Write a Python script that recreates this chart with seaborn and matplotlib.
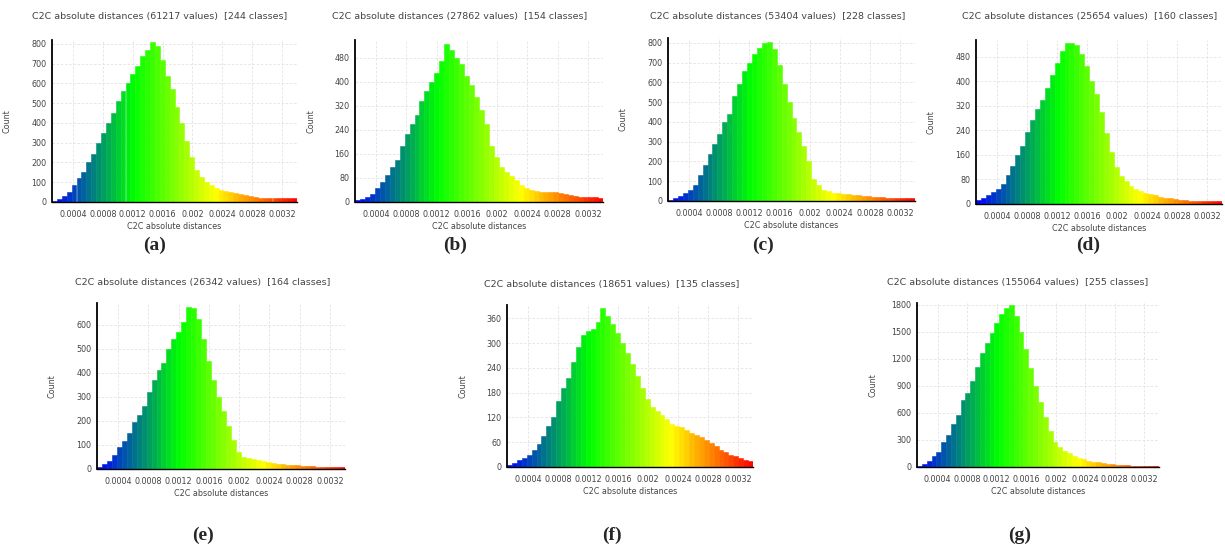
import matplotlib
matplotlib.use("Agg")
import matplotlib.pyplot as plt
import numpy as np
import pandas as pd
import seaborn as sns
from matplotlib.colors import LinearSegmentedColormap
from matplotlib.ticker import AutoMinorLocator, MultipleLocator

# scalar field range (C2C absolute distances)
x_min, x_max = 0.00012, 0.0034
tick_vals = [0.0004, 0.0008, 0.0012, 0.0016, 0.0020, 0.0024, 0.0028, 0.0032]
tick_labels = ["0.0004", "0.0008", "0.0012", "0.0016", "0.002", "0.0024", "0.0028", "0.0032"]

titles = [
    "C2C absolute distances (61217 values)  [244 classes]",
    "C2C absolute distances (27862 values)  [154 classes]",
    "C2C absolute distances (53404 values)  [228 classes]",
    "C2C absolute distances (25654 values)  [160 classes]",
    "C2C absolute distances (26342 values)  [164 classes]",
    "C2C absolute distances (18651 values)  [135 classes]",
    "C2C absolute distances (155064 values)  [255 classes]",
]
letters = ["a", "b", "c", "d", "e", "f", "g"]

# counts per class (resampled to 50 classes)
counts_a = [5, 15, 30, 50, 85, 120, 150, 200, 245, 300, 350, 400, 450, 510, 560, 600, 650,
            690, 740, 770, 810, 790, 720, 640, 570, 480, 400, 310, 230, 160, 125, 100, 85, 72,
            62, 55, 50, 45, 40, 36, 30, 26, 22, 20, 18, 18, 20, 20, 20, 20]
counts_b = [8, 10, 18, 28, 45, 65, 90, 115, 140, 185, 225, 260, 290, 335, 370, 400, 430,
            470, 525, 505, 480, 460, 420, 390, 350, 305, 260, 185, 150, 115, 100, 85, 72, 58,
            48, 40, 36, 34, 33, 33, 32, 30, 25, 22, 20, 18, 16, 16, 15, 14]
counts_c = [5, 15, 25, 40, 58, 80, 130, 180, 240, 290, 340, 400, 440, 530, 590, 660, 700,
            745, 775, 800, 805, 770, 690, 590, 500, 420, 350, 280, 200, 110, 80, 58, 50, 43,
            38, 36, 34, 32, 30, 27, 24, 22, 20, 18, 16, 14, 13, 13, 13, 13]
counts_d = [12, 20, 28, 38, 50, 65, 95, 125, 160, 190, 235, 275, 310, 340, 380, 420, 460,
            500, 525, 525, 520, 490, 450, 400, 360, 300, 230, 170, 120, 90, 75, 60, 50, 42,
            36, 32, 28, 24, 20, 18, 15, 13, 12, 10, 9, 9, 9, 10, 10, 10]
counts_e = [8, 20, 35, 60, 90, 115, 150, 195, 225, 260, 320, 370, 410, 440, 500, 540, 570,
            610, 675, 670, 625, 540, 450, 370, 300, 240, 180, 120, 70, 50, 44, 40, 36, 32,
            29, 26, 22, 20, 18, 16, 15, 14, 12, 11, 10, 10, 10, 10, 10, 10]
counts_f = [5, 10, 16, 22, 30, 42, 55, 75, 100, 120, 160, 190, 215, 255, 290, 320, 330,
            335, 350, 385, 365, 345, 325, 300, 275, 250, 220, 190, 165, 145, 135, 125, 115,
            105, 100, 96, 90, 82, 78, 72, 66, 58, 50, 42, 36, 30, 26, 22, 18, 14]
counts_g = [8, 28, 70, 120, 170, 280, 360, 480, 580, 740, 820, 950, 1110, 1260, 1380, 1490,
            1600, 1700, 1760, 1800, 1680, 1500, 1310, 1100, 900, 720, 550, 400, 280, 220, 180,
            150, 125, 105, 85, 70, 58, 50, 45, 38, 32, 26, 22, 19, 16, 14, 12, 10, 8, 7]

all_counts = [counts_a, counts_b, counts_c, counts_d, counts_e, counts_f, counts_g]
y_tops = [820, 540, 825, 535, 690, 392, 1820]
y_steps = [100, 80, 100, 80, 100, 60, 300]

# layout in pixels: axes (left, right, top, bottom), title centre, letter centre
W, H = 1225, 550
axes_px = [(52, 297, 40, 202), (355, 603, 40, 202), (668, 915, 38, 201), (976, 1222, 40, 204),
           (97, 345, 303, 469), (507, 753, 305, 467), (917, 1159, 303, 467)]
title_px = [(160, 17), (460, 17), (778, 17), (1090, 17), (203, 283), (612, 284), (1018, 283)]
letter_px = [(155, 245), (455, 245), (763, 245), (1088, 245), (203, 535), (612, 535), (1020, 535)]

sns.set_style("white")
plt.rcParams["font.family"] = ["DejaVu Sans"]

cmap = LinearSegmentedColormap.from_list("bgyr", ["#0000ff", "#00ff00", "#ffff00", "#ff0000"])

fig = plt.figure(figsize=(W / 100, H / 100), dpi=100)

for i, counts in enumerate(all_counts):
    l, r, t, b = axes_px[i]
    ax = fig.add_axes([l / W, 1 - b / H, (r - l) / W, (b - t) / H])
    n = len(counts)
    step = (x_max - x_min) / n
    centers = x_min + step * (np.arange(n) + 0.5)
    df = pd.DataFrame({"dist": centers, "n": counts})
    sns.histplot(data=df, x="dist", weights="n", bins=n, binrange=(x_min, x_max),
                 ax=ax, linewidth=0, alpha=1)
    # colour each class by its distance value (Blue > Green > Yellow > Red)
    for patch in ax.patches:
        c = patch.get_x() + patch.get_width() / 2
        col = cmap((c - x_min) / (x_max - x_min))
        patch.set_facecolor(col)
        patch.set_edgecolor(col)
        patch.set_linewidth(0.4)

    ax.set_xlim(x_min, x_max)
    ax.set_ylim(0, y_tops[i])
    ax.set_xticks(tick_vals)
    ax.set_xticklabels(tick_labels)
    ax.yaxis.set_major_locator(MultipleLocator(y_steps[i]))
    ax.xaxis.set_minor_locator(AutoMinorLocator(2))
    ax.yaxis.set_minor_locator(AutoMinorLocator(5))
    ax.tick_params(axis="both", which="major", labelsize=5.8, labelcolor="#444444",
                   direction="inout", length=4, width=0.8, color="black", pad=2)
    ax.tick_params(axis="both", which="minor", direction="inout", length=2.5, width=0.6, color="black")
    ax.tick_params(axis="x", which="major", pad=4)
    ax.grid(True, which="major", color="#e2e2e2", linewidth=0.6, linestyle=(0, (3, 2)))
    ax.set_axisbelow(True)
    for s in ["top", "right"]:
        ax.spines[s].set_visible(False)
    ax.spines["left"].set_linewidth(1.3)
    ax.spines["bottom"].set_linewidth(1.0)
    ax.spines["left"].set_color("black")
    ax.spines["bottom"].set_color("black")

    ax.set_xlabel("C2C absolute distances", fontsize=5.8, color="#444444", labelpad=2)
    ax.set_ylabel("Count", fontsize=5.8, color="#444444")
    ax.yaxis.set_label_coords(-40 / (r - l), 0.5)

    tx, ty = title_px[i]
    fig.text(tx / W, 1 - ty / H, titles[i], ha="center", va="center", fontsize=6.8, color="#444444")
    lx, ly = letter_px[i]
    fig.text(lx / W, 1 - ly / H, "(" + letters[i] + ")", ha="center", va="center",
             fontsize=14, fontweight="bold", family="Liberation Serif")

fig.savefig("out.png", dpi=100)
